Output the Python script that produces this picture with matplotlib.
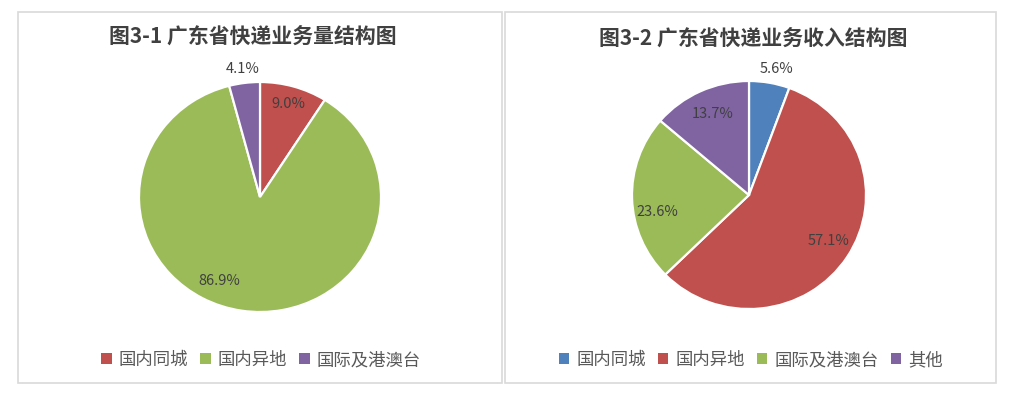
import numpy as np
import matplotlib
matplotlib.use("Agg")
import matplotlib.pyplot as plt
from matplotlib.patches import Patch, Rectangle

plt.rcParams['font.family'] = ['Noto Sans CJK SC', 'DejaVu Sans']

# data
left_title = "图3-1 广东省快递业务量结构图"
left_labels = ["国内同城", "国内异地", "国际及港澳台"]
left_values = [9.0, 86.9, 4.1]

right_title = "图3-2 广东省快递业务收入结构图"
right_labels = ["国内同城", "国内异地", "国际及港澳台", "其他"]
right_values = [5.6, 57.1, 23.6, 13.7]

# excel 2010 palette
blue = "#4F81BD"
red = "#C0504D"
green = "#9BBB59"
purple = "#8064A2"
left_colors = [red, green, purple]
right_colors = [blue, red, green, purple]

# label placement (radius as fraction of pie, angle shift in degrees)
left_lab_r = [0.84, 0.80, 1.12]
left_lab_shift = [0, -16, 0]
right_lab_r = [1.13, 0.79, 0.80, 0.78]
right_lab_shift = [-2, 2, 9, -1]

W, H = 1013, 393
fig = plt.figure(figsize=(W / 100, H / 100), dpi=100)

text_dark = "#404040"
legend_grey = "#595959"


def px_rect(x0, y0, x1, y1):
    # pixel box (top-left origin) -> figure fraction rect
    return [x0 / W, 1 - y1 / H, (x1 - x0) / W, (y1 - y0) / H]


def panel(box, title, title_xy, labels, values, colors, pie_c, pie_r,
          lab_r, lab_shift, legend_xy):
    x0, y0, x1, y1 = box
    fig.patches.append(Rectangle((x0 / W, 1 - y1 / H), (x1 - x0) / W, (y1 - y0) / H,
                                 transform=fig.transFigure, facecolor="white",
                                 edgecolor="#d9d9d9", linewidth=1.2, zorder=-5))
    fig.text(title_xy[0] / W, 1 - title_xy[1] / H, title, ha="center", va="center",
             fontsize=15, fontweight="bold", color=text_dark)

    cx, cy = pie_c
    rx, ry = pie_r
    ax = fig.add_axes(px_rect(cx - rx, cy - ry, cx + rx, cy + ry))
    wedges, _ = ax.pie(values, colors=colors, startangle=90, counterclock=False,
                       radius=1, wedgeprops=dict(edgecolor="white", linewidth=1.6))
    ax.set_aspect("auto")
    ax.set_xlim(-1, 1)
    ax.set_ylim(-1, 1)
    ax.axis("off")
    for w, v, r, s in zip(wedges, values, lab_r, lab_shift):
        ang = np.deg2rad((w.theta1 + w.theta2) / 2 + s)
        ax.text(r * np.cos(ang), r * np.sin(ang), f"{v:.1f}%", ha="center",
                va="center", fontsize=10.5, color=text_dark, clip_on=False)

    handles = [Patch(facecolor=c, edgecolor="none") for c in colors]
    fig.legend(handles, labels, loc="center", ncol=len(labels),
               bbox_to_anchor=(legend_xy[0] / W, 1 - legend_xy[1] / H),
               frameon=False, fontsize=12.5, labelcolor=legend_grey,
               handlelength=0.6, handleheight=0.6, handletextpad=0.4,
               columnspacing=0.7, borderpad=0)


panel((18, 12, 502, 383), left_title, (253, 36), left_labels, left_values,
      left_colors, (260, 197), (121, 115), left_lab_r, left_lab_shift, (261, 360))
panel((505, 12, 996, 383), right_title, (753, 38), right_labels, right_values,
      right_colors, (749, 195), (117, 114), right_lab_r, right_lab_shift, (751, 360))

fig.savefig("out.png", dpi=100)
